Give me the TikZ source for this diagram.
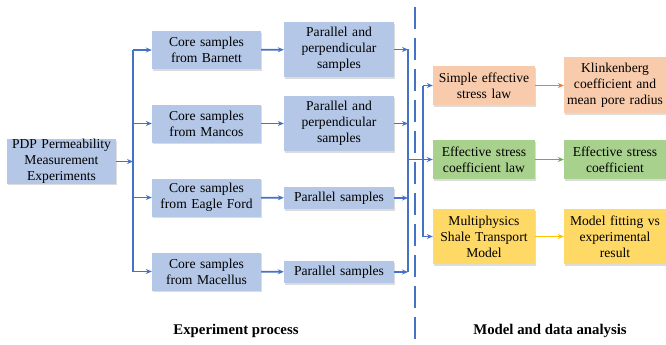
\documentclass[tikz,border=0pt]{standalone}
\usepackage{fontspec}
\setmainfont{Liberation Serif}
\usepackage{xcolor}
\usepackage{tikz}
\usetikzlibrary{arrows.meta,shadows}
\definecolor{bluefill}{HTML}{B4C7E7}
\definecolor{blueline}{HTML}{4472C4}
\definecolor{orangefill}{HTML}{F8CBAD}
\definecolor{orangeline}{HTML}{ED7D31}
\definecolor{greenfill}{HTML}{A9D18E}
\definecolor{greenline}{HTML}{70AD47}
\definecolor{yellowfill}{HTML}{FFD966}
\definecolor{yellowline}{HTML}{FFC000}
\tikzset{every node/.append style={font=\fontsize{13.6}{16}\selectfont}}

\begin{document}
\begin{tikzpicture}[x=1pt,y=-1pt,
    >={Stealth[length=6pt,width=5pt]},
    cell/.style={fill=bluefill,inner xsep=2pt,inner ysep=0pt,align=center,
      text width=105pt,minimum height=38pt,
      drop shadow={shadow xshift=0.8pt,shadow yshift=-1.6pt,opacity=0.28}},
    flow/.style={->,blueline,line width=1.7pt},
    bus/.style={blueline,line width=1.7pt}]
  \useasboundingbox (0,0) rectangle (666,345);
  % experiment side
  \node[cell] (pdp) at (61.5,161.5) {PDP Permeability\\Measurement\\Experiments};
  \node[cell] (barnett) at (206.5,50) {Core samples\\from Barnett};
  \node[cell] (mancos) at (206.5,123.5) {Core samples\\from Mancos};
  \node[cell] (eagle) at (206.5,197.5) {Core samples\\from Eagle Ford};
  \node[cell] (macellus) at (206.5,271.5) {Core samples\\from Macellus};
  \node[cell,text width=106pt,minimum height=55pt] (ppb) at (339,49.5) {Parallel and\\perpendicular\\samples};
  \node[cell,text width=106pt,minimum height=55pt] (ppm) at (339,123.5) {Parallel and\\perpendicular\\samples};
  \node[cell,text width=106pt,minimum height=22pt] (pe) at (339,198) {Parallel samples};
  \node[cell,text width=106pt,minimum height=22pt] (pm) at (339,272) {Parallel samples};
  \coordinate (lbus) at (133,161.5);
  \draw[flow] (pdp) -- (lbus);
  \draw[bus] (lbus |- barnett) -- (lbus |- macellus);
  \foreach \n/\m in {barnett/ppb,mancos/ppm,eagle/pe,macellus/pm}{
    \draw[flow] (lbus |- \n) -- (\n);
    \draw[flow] (\n) -- (\m);
  }
  \coordinate (rbus) at (408,159.5);
  \draw[bus] (rbus |- ppb) -- (rbus |- pm);
  \foreach \m in {ppb,ppm,pe,pm}
    \draw[flow] (\m) -- (rbus |- \m);
  % model side
  \node[cell,fill=orangefill,text width=98pt,minimum height=39pt] (simple) at (484,85.5) {Simple effective\\stress law};
  \node[cell,fill=orangefill,text width=98pt,minimum height=56pt] (klink) at (615,85) {Klinkenberg\\coefficient and\\mean pore radius};
  \node[cell,fill=greenfill,text width=98pt,minimum height=39pt] (eslaw) at (484,159.5) {Effective stress\\coefficient law};
  \node[cell,fill=greenfill,text width=98pt,minimum height=39pt] (escoef) at (615,159.5) {Effective stress\\coefficient};
  \node[cell,fill=yellowfill,text width=98pt,minimum height=55pt] (multi) at (484,236.5) {Multiphysics\\Shale Transport\\Model};
  \node[cell,fill=yellowfill,text width=98pt,minimum height=55pt] (fit) at (615,236.5) {Model fitting vs\\experimental\\result};
  \coordinate (mbus) at (423,159.5);
  \draw[bus] (rbus) -- (mbus);
  \draw[bus] (mbus |- simple) -- (mbus |- multi);
  \foreach \n in {simple,eslaw,multi}
    \draw[flow] (mbus |- \n) -- (\n);
  \draw[->,orangeline,line width=1.7pt] (simple) -- (simple -| klink.west);
  \draw[->,greenline,line width=1.7pt] (eslaw) -- (escoef);
  \draw[->,yellowline,line width=1.7pt] (multi) -- (fit);
  % divider and captions
  \draw[blueline,line width=2.8pt,dash pattern=on 22pt off 9pt] (415,7) -- (415,345);
  \node[font=\fontsize{14.8}{17}\selectfont\bfseries] (expcap) at (236,331) {Experiment process};
  \node[font=\fontsize{14.8}{17}\selectfont\bfseries] (modcap) at (550,331) {Model and data analysis};
\end{tikzpicture}
\end{document}
